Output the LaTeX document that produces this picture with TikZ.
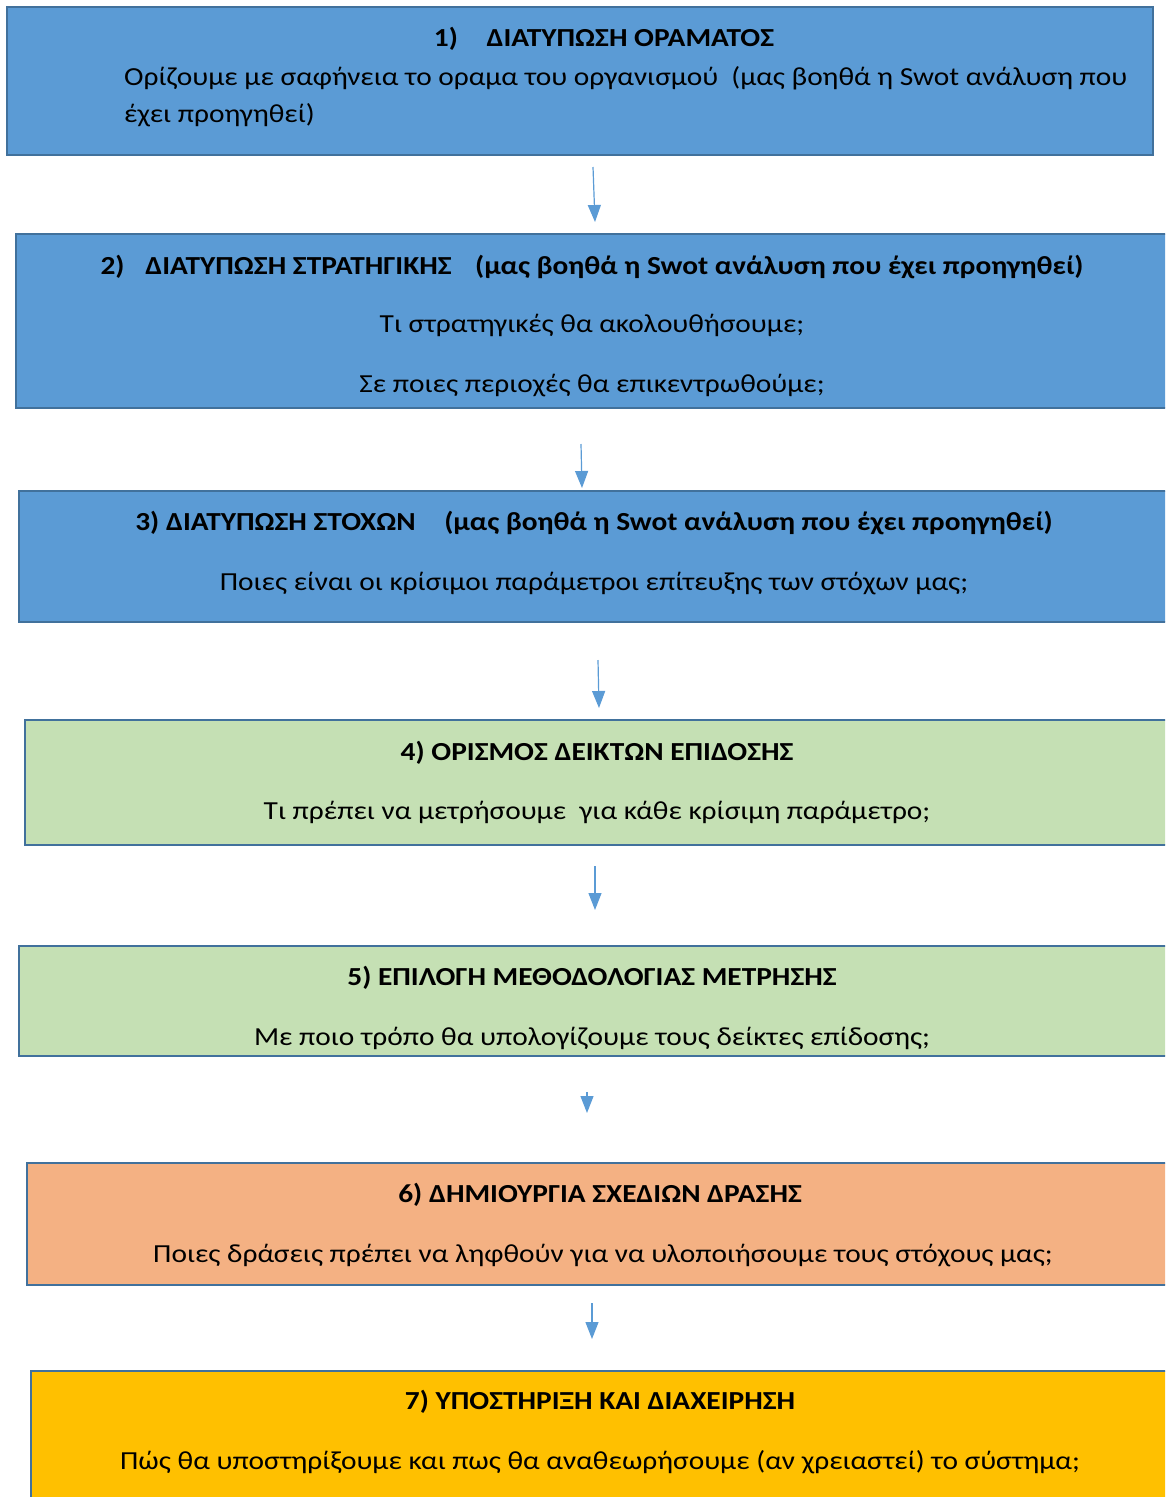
\documentclass[tikz,border=0pt]{standalone}
\usepackage{fontspec}
\setmainfont[FakeStretch=1.13]{Carlito}
\usetikzlibrary{arrows.meta}
\definecolor{stepblue}{HTML}{5B9BD5}
\definecolor{stepgreen}{HTML}{C5E0B4}
\definecolor{steporange}{HTML}{F4B183}
\definecolor{stepgold}{HTML}{FFC000}
\definecolor{stepedge}{HTML}{41719C}
\definecolor{flowline}{HTML}{5B9BD5}
\begin{document}
\begin{tikzpicture}[x=1pt,y=-1pt,
  stepbox/.style={draw=stepedge,line width=2.5pt},
  txt/.style={inner sep=0pt,anchor=base,font=\fontsize{26}{31}\selectfont},
  ttl/.style={txt,font=\fontsize{26}{31}\selectfont\bfseries},
  flow/.style={draw=flowline,line width=1.2pt,-{Triangle[width=13pt,length=17pt]}}]
\useasboundingbox (0,0) rectangle (1165,1497);
\clip (0,0) rectangle (1165,1497);

% step boxes
\draw[stepbox,fill=stepblue]   (7,7)     rectangle (1153,155);
\draw[stepbox,fill=stepblue]   (16,234)  rectangle (1180,408);
\draw[stepbox,fill=stepblue]   (19,491)  rectangle (1180,622);
\draw[stepbox,fill=stepgreen]  (25,720)  rectangle (1180,845);
\draw[stepbox,fill=stepgreen]  (19,946)  rectangle (1180,1056);
\draw[stepbox,fill=steporange] (27,1163) rectangle (1180,1285);
\draw[stepbox,fill=stepgold]   (31,1371) rectangle (1180,1520);

% texts
\node[ttl] (t1) at (604,46) {1)\hspace{1.1em}ΔΙΑΤΥΠΩΣΗ ΟΡΑΜΑΤΟΣ};
\node[txt,anchor=base west] (b1a) at (124,85) {Ορίζουμε με σαφήνεια το οραμα του οργανισμού\hspace{0.25em} (μας βοηθά η Swot ανάλυση που};
\node[txt,anchor=base west] (b1b) at (124,122) {έχει προηγηθεί)};

\node[ttl] (t2) at (592,274) {2)\hspace{0.8em}ΔΙΑΤΥΠΩΣΗ ΣΤΡΑΤΗΓΙΚΗΣ\hspace{0.9em}(μας βοηθά η Swot ανάλυση που έχει προηγηθεί)};
\node[txt] (b2a) at (592,332) {Τι στρατηγικές θα ακολουθήσουμε;};
\node[txt] (b2b) at (592,392) {Σε ποιες περιοχές θα επικεντρωθούμε;};

\node[ttl] (t3) at (594,530) {3) ΔΙΑΤΥΠΩΣΗ ΣΤΟΧΩΝ\hspace{1.1em}(μας βοηθά η Swot ανάλυση που έχει προηγηθεί)};
\node[txt] (b3) at (594,590) {Ποιες είναι οι κρίσιμοι παράμετροι επίτευξης των στόχων μας;};

\node[ttl] (t4) at (597,760) {4) ΟΡΙΣΜΟΣ ΔΕΙΚΤΩΝ ΕΠΙΔΟΣΗΣ};
\node[txt] (b4) at (597,819) {Τι πρέπει να μετρήσουμε\hspace{0.25em} για κάθε κρίσιμη παράμετρο;};

\node[ttl] (t5) at (592,985) {5) ΕΠΙΛΟΓΗ ΜΕΘΟΔΟΛΟΓΙΑΣ ΜΕΤΡΗΣΗΣ};
\node[txt] (b5) at (592,1045) {Με ποιο τρόπο θα υπολογίζουμε τους δείκτες επίδοσης;};

\node[ttl] (t6) at (600,1202) {6) ΔΗΜΙΟΥΡΓΙΑ ΣΧΕΔΙΩΝ ΔΡΑΣΗΣ};
\node[txt] (b6) at (603,1262) {Ποιες δράσεις πρέπει να ληφθούν για να υλοποιήσουμε τους στόχους μας;};

\node[ttl] (t7) at (600,1409) {7) ΥΠΟΣΤΗΡΙΞΗ ΚΑΙ ΔΙΑΧΕΊΡΗΣΗ};
\node[txt] (b7) at (600,1469) {Πώς θα υποστηρίξουμε και πως θα αναθεωρήσουμε (αν χρειαστεί) το σύστημα;};

% connectors between steps
\coordinate (a1s) at (593,167);  \coordinate (a1e) at (595,222);
\coordinate (a2s) at (581,444);  \coordinate (a2e) at (582,488);
\coordinate (a3s) at (598,660);  \coordinate (a3e) at (599,708);
\coordinate (a4s) at (595,866);  \coordinate (a4e) at (595,910);
\coordinate (a5s) at (587,1092); \coordinate (a5e) at (587,1113);
\coordinate (a6s) at (592,1303); \coordinate (a6e) at (592,1339);
\draw[flow] (a1s) -- (a1e);
\draw[flow] (a2s) -- (a2e);
\draw[flow] (a3s) -- (a3e);
\draw[flow] (a4s) -- (a4e);
\draw[flow] (a5s) -- (a5e);
\draw[flow] (a6s) -- (a6e);
\end{tikzpicture}
\end{document}
